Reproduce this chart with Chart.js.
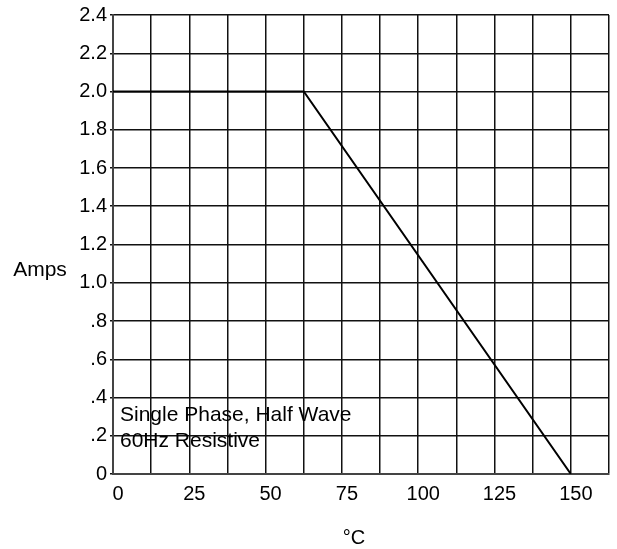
<!DOCTYPE html>
<html>
<head>
<meta charset="utf-8">
<script src="https://cdn.jsdelivr.net/npm/chart.js@4/dist/chart.umd.min.js"></script>
<style>
  html, body { margin: 0; padding: 0; background: #fff; }
  #derating { display: block; }
</style>
</head>
<body>
<canvas id="derating" width="617" height="549"></canvas>
<script>
// derating curve
const tempC = [0, 62.5, 150];
const amps = [2.0, 2.0, 0];

const xTickLabels = ['0', '25', '50', '75', '100', '125', '150'];
const yTickLabels = ['0', '.2', '.4', '.6', '.8', '1.0', '1.2', '1.4', '1.6', '1.8', '2.0', '2.2', '2.4'];
const noteLines = ['Single Phase, Half Wave', '60Hz Resistive'];

const font = '"Liberation Sans", Arial, sans-serif';

const textPlugin = {
  id: 'textPlugin',
  afterDraw(chart) {
    const ctx = chart.ctx;
    const area = chart.chartArea;
    ctx.save();
    ctx.fillStyle = '#000';
    ctx.font = '21px ' + font;
    ctx.textBaseline = 'middle';
    ctx.textAlign = 'left';
    ctx.fillText(noteLines[0], area.left + 7, 415);
    ctx.fillText(noteLines[1], area.left + 7, 441);
    ctx.textAlign = 'center';
    ctx.fillText('Amps', 40, 270);
    ctx.font = '20px ' + font;
    ctx.fillText('\u00B0C', 354, 538);
    ctx.restore();
  }
};

new Chart(document.getElementById('derating').getContext('2d'), {
  type: 'line',
  data: {
    datasets: [{
      data: tempC.map((t, i) => ({ x: t, y: amps[i] })),
      borderColor: '#000',
      borderWidth: 2,
      pointRadius: 0,
      tension: 0,
      fill: false
    }]
  },
  options: {
    responsive: false,
    animation: false,
    layout: { padding: { top: 14, right: 4, left: 0, bottom: 0 } },
    plugins: { legend: { display: false }, tooltip: { enabled: false } },
    scales: {
      x: {
        type: 'linear',
        min: 0,
        max: 162.5,
        afterFit(s) { s.height = 75; },
        grid: { color: '#111', lineWidth: 1.5, drawTicks: false },
        border: { color: '#444', width: 2 },
        ticks: {
          stepSize: 12.5,
          autoSkip: false,
          maxRotation: 0,
          padding: 8,
          labelOffset: 5,
          color: '#000',
          font: { family: font, size: 20 },
          callback: (v) => (v % 25 === 0 && v <= 150) ? xTickLabels[v / 25] : ''
        }
      },
      y: {
        min: 0,
        max: 2.4,
        afterFit(s) { s.width = 113; },
        grid: { color: '#111', lineWidth: 1.5, drawTicks: true, tickLength: 3 },
        border: { color: '#444', width: 2 },
        ticks: {
          stepSize: 0.2,
          autoSkip: false,
          padding: 3,
          color: '#000',
          font: { family: font, size: 20 },
          callback: (v) => yTickLabels[Math.round(v / 0.2)]
        }
      }
    }
  },
  plugins: [textPlugin]
});
</script>
</body>
</html>
